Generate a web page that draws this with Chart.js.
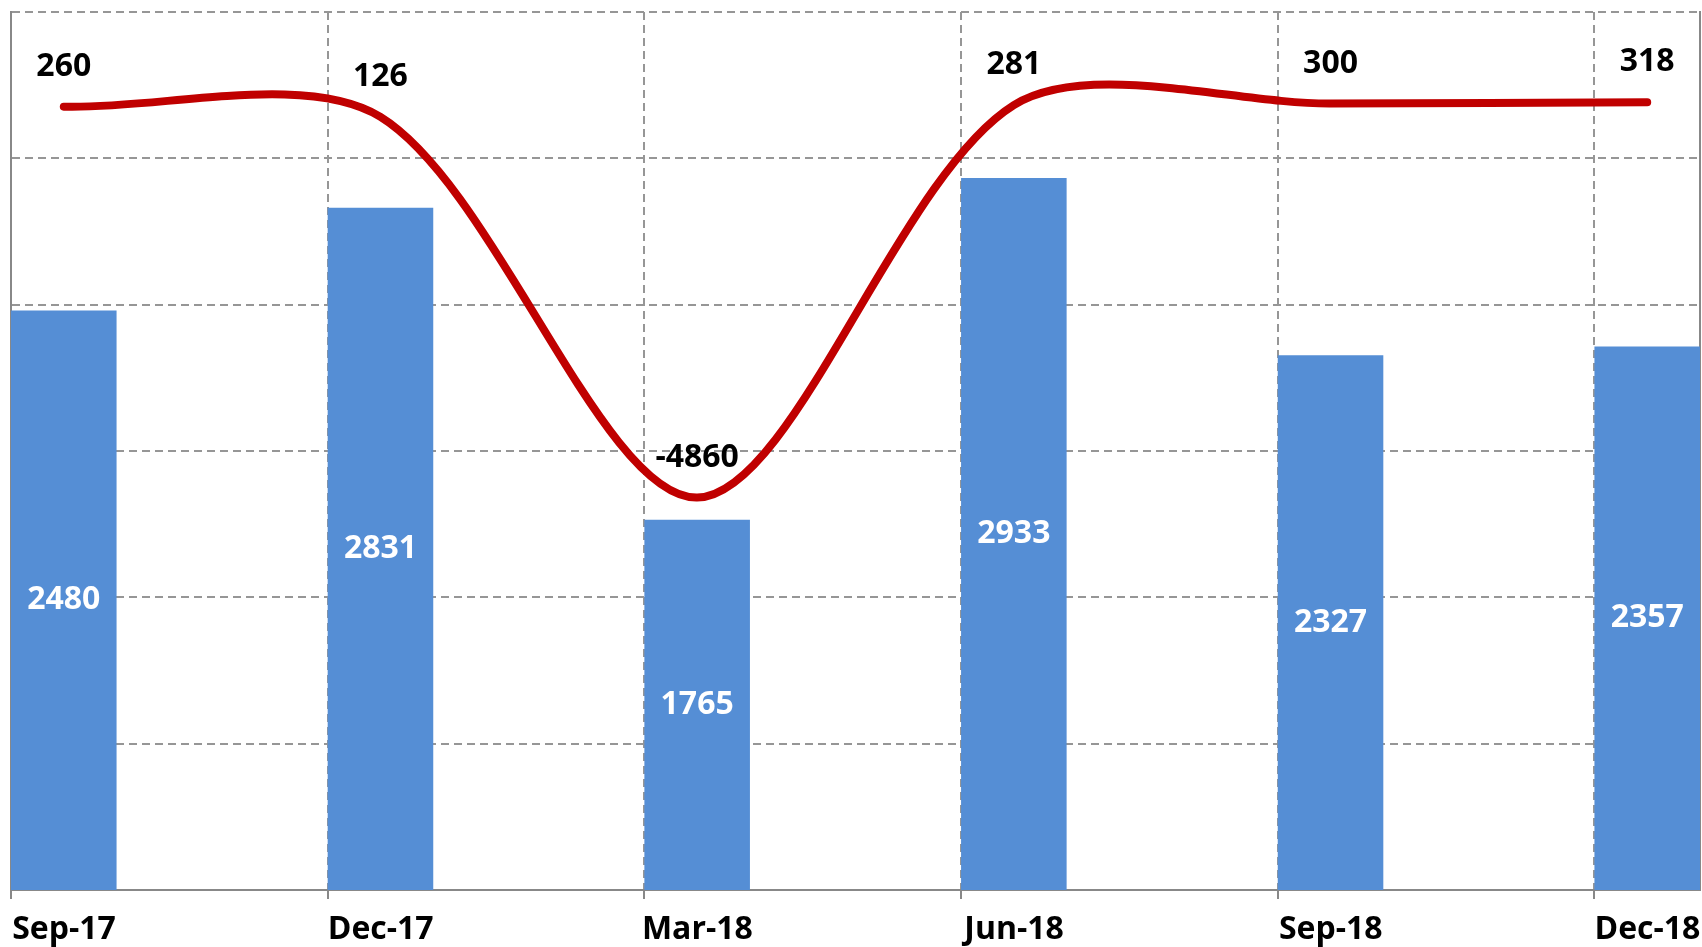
<!DOCTYPE html>
<html>
<head>
<meta charset="utf-8">
<script src="https://cdn.jsdelivr.net/npm/chart.js@4.4.0/dist/chart.umd.min.js"></script>
<style>
  html, body { margin: 0; padding: 0; background: #fff; overflow: hidden; }
  canvas { display: block; }
</style>
</head>
<body>
<canvas id="chart" width="1702" height="947"></canvas>
<script>
const categories = ["Sep-17", "Dec-17", "Mar-18", "Jun-18", "Sep-18", "Dec-18"];
const barValues = [2480, 2831, 1765, 2933, 2327, 2357];
const lineValues = [260, 126, -4860, 281, 300, 318];

// bars sit in the left third of each quarter slot
const slot = i => i + 1 / 6;

const fontFamily = '"Open Sans", "DejaVu Sans", sans-serif';
const gridGray = "#969696";

// draw value labels (white inside bars, black above the line)
const valueLabels = {
  id: "valueLabels",
  afterDatasetsDraw(chart) {
    const ctx = chart.ctx;
    const bottom = chart.chartArea.bottom;
    ctx.save();
    ctx.font = "bold 32px " + fontFamily;
    ctx.textAlign = "center";
    ctx.textBaseline = "middle";
    chart.getDatasetMeta(1).data.forEach((bar, i) => {
      ctx.fillStyle = "#ffffff";
      ctx.fillText(barValues[i], bar.x, (bar.y + Math.min(bar.base, bottom)) / 2);
    });
    chart.getDatasetMeta(0).data.forEach((pt, i) => {
      ctx.fillStyle = "#000000";
      ctx.fillText(lineValues[i], pt.x, pt.y - 40);
    });
    ctx.restore();
  }
};

new Chart(document.getElementById("chart").getContext("2d"), {
  data: {
    datasets: [
      {
        type: "line",
        data: lineValues.map((v, i) => ({ x: slot(i), y: v })),
        yAxisID: "y2",
        borderColor: "#C00000",
        borderWidth: 8,
        borderCapStyle: "round",
        pointRadius: 0,
        tension: 0.3,
        fill: false,
        order: 0
      },
      {
        type: "bar",
        data: barValues.map((v, i) => ({ x: slot(i), y: v })),
        yAxisID: "y",
        backgroundColor: "#558ED5",
        barPercentage: 1,
        categoryPercentage: 1 / 3,
        order: 1
      }
    ]
  },
  options: {
    responsive: false,
    animation: false,
    devicePixelRatio: 1,
    layout: { padding: { left: 11, top: 12, right: 2, bottom: 0 } },
    plugins: {
      legend: { display: false },
      tooltip: { enabled: false }
    },
    scales: {
      x: {
        type: "linear",
        min: 0,
        max: 16 / 3,
        offset: false,
        afterBuildTicks: a => { a.ticks = categories.map((c, i) => ({ value: i })); },
        afterFit: a => { a.paddingLeft = 0; a.paddingRight = 0; a.height = 57; },
        grid: {
          color: gridGray,
          lineWidth: 2,
          offset: false,
          drawTicks: true,
          tickLength: 9,
          tickColor: "#888",
          tickWidth: 2
        },
        border: { display: true, color: "#888", width: 2, dash: [8, 5] },
        ticks: {
          autoSkip: false,
          maxRotation: 0,
          labelOffset: 53,
          padding: 12,
          color: "#000",
          font: { family: fontFamily, size: 32, weight: "bold" },
          callback: v => categories[v]
        }
      },
      y: {
        position: "left",
        min: 500,
        max: 3500,
        afterFit: a => { a.width = 0; },
        ticks: { stepSize: 500, display: false },
        grid: { color: gridGray, lineWidth: 2, drawTicks: false },
        border: { display: true, color: "#888", width: 2, dash: [8, 5] }
      },
      y2: {
        position: "right",
        min: -10000,
        max: 1500,
        afterFit: a => { a.width = 0; },
        ticks: { display: false },
        grid: { display: false, drawTicks: false },
        border: { display: true, color: "#888", width: 2 }
      }
    }
  },
  plugins: [valueLabels]
});
</script>
</body>
</html>
